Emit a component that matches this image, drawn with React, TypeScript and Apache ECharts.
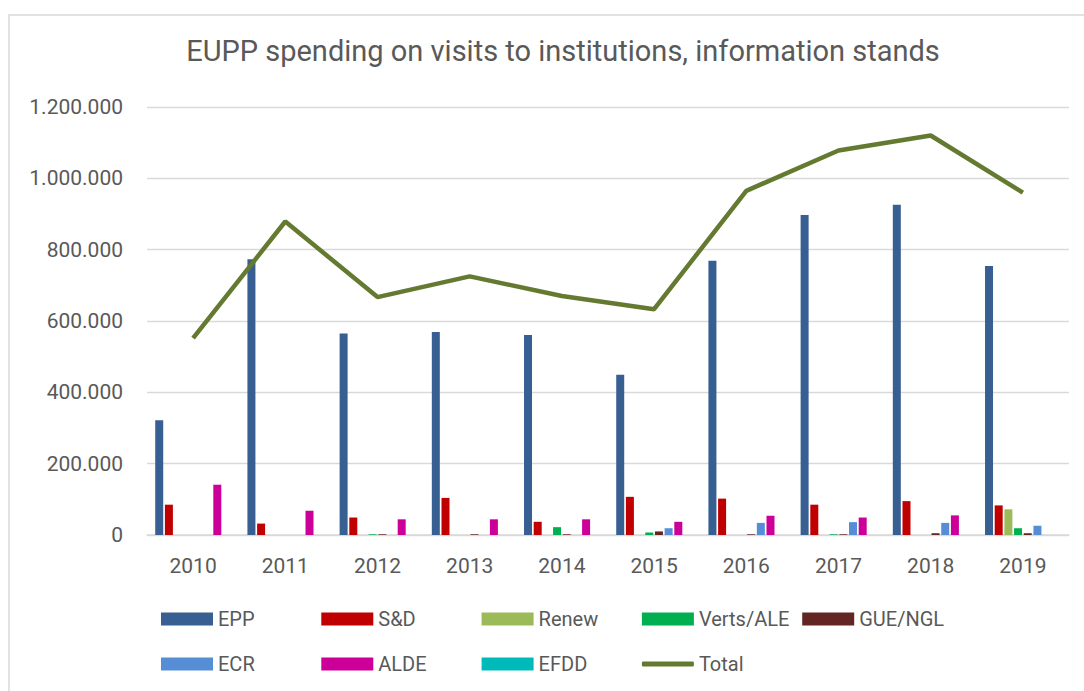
import React, { useEffect, useRef } from "react";
import * as echarts from "echarts";

const years = ["2010", "2011", "2012", "2013", "2014", "2015", "2016", "2017", "2018", "2019"];
const epp = [322000, 773000, 565000, 569000, 561000, 449000, 769000, 897000, 926000, 754000];
const sd = [85000, 32000, 49000, 104000, 37000, 107000, 102000, 85000, 95000, 83000];
const renew = [0, 0, 0, 0, 0, 0, 0, 0, 0, 72000];
const verts = [0, 0, 2000, 0, 22000, 7000, 0, 2000, 0, 19000];
const gue = [0, 0, 2000, 2000, 2000, 10000, 2000, 2000, 5000, 5000];
const ecr = [0, 0, 0, 0, 0, 19000, 34000, 36000, 34000, 26000];
const alde = [141000, 68000, 44000, 44000, 44000, 37000, 54000, 49000, 55000, 0];
const efdd = [0, 0, 0, 0, 0, 0, 0, 0, 0, 0];
const total = [552000, 879000, 667000, 725000, 670000, 633000, 965000, 1078000, 1120000, 960000];

const yTicks = { min: 0, max: 1200000, interval: 200000 };

const barSeries = [
  { name: "EPP", data: epp, color: "#375F92" },
  { name: "S&D", data: sd, color: "#C00000" },
  { name: "Renew", data: renew, color: "#9BBB59" },
  { name: "Verts/ALE", data: verts, color: "#00B050" },
  { name: "GUE/NGL", data: gue, color: "#632523" },
  { name: "ECR", data: ecr, color: "#558ED5" },
  { name: "ALDE", data: alde, color: "#CC0099" },
  { name: "EFDD", data: efdd, color: "#00B9B9" },
];

const FONT = "Roboto";
const TXT = "#595959";

const fmt = (v: number) => String(v).replace(/\B(?=(\d{3})+(?!\d))/g, ".");

export default function App() {
  const ref = useRef<HTMLDivElement>(null);
  useEffect(() => {
    if (!ref.current) return;
    const chart = echarts.init(ref.current, null, { renderer: "svg" });
    const names = [...barSeries.map((s) => s.name), "Total"];
    const legends = names.map((name, i) => {
      const row = i < 5 ? 0 : 1;
      const col = i < 5 ? i : i - 5;
      const isLine = name === "Total";
      const iconCenterY = row === 0 ? 619 : 664;
      return {
        data: [{ name, icon: isLine ? "roundRect" : "rect" }],
        left: 156 + col * 160.3,
        top: iconCenterY - 12 - 5,
        itemWidth: 52,
        itemHeight: isLine ? 5 : 13,
        itemGap: 0,
        selectedMode: false,
        textStyle: { color: TXT, fontFamily: FONT, fontSize: 20, lineHeight: 24 },
      };
    });
    chart.setOption({
      animation: false,
      backgroundColor: "#ffffff",
      title: {
        text: "EUPP spending on visits to institutions, information stands",
        left: 558,
        top: 31,
        textAlign: "center",
        textStyle: { color: TXT, fontFamily: FONT, fontSize: 29, fontWeight: "normal" },
      },
      graphic: [
        {
          type: "rect",
          shape: { x: 9, y: 15, width: 1200, height: 800 },
          style: { fill: "none", stroke: "#D9D9D9", lineWidth: 1.5 },
          silent: true,
        },
      ],
      grid: { left: 147, right: 15, top: 107, bottom: 156, containLabel: false },
      legend: legends,
      xAxis: {
        type: "category",
        data: years,
        axisTick: { show: false },
        axisLine: { lineStyle: { color: "#D9D9D9", width: 1.5 } },
        axisLabel: { color: TXT, fontFamily: FONT, fontSize: 21, margin: 20 },
      },
      yAxis: {
        type: "value",
        min: yTicks.min,
        max: yTicks.max,
        interval: yTicks.interval,
        axisLine: { show: false },
        axisTick: { show: false },
        splitLine: { lineStyle: { color: "#D9D9D9", width: 1.3 } },
        axisLabel: { color: TXT, fontFamily: FONT, fontSize: 21, margin: 24, formatter: fmt },
      },
      series: [
        ...barSeries.map((s) => ({
          name: s.name,
          type: "bar",
          data: s.data,
          barWidth: 8,
          barGap: "21%",
          itemStyle: { color: s.color },
        })),
        {
          name: "Total",
          type: "line",
          data: total,
          symbol: "none",
          lineStyle: { color: "#647A31", width: 4.5 },
          itemStyle: { color: "#647A31" },
        },
      ],
    });
    return () => chart.dispose();
  }, []);
  return (
    <div
      ref={ref}
      style={{ position: "fixed", left: 0, top: 0, width: 1084, height: 691 }}
    />
  );
}
